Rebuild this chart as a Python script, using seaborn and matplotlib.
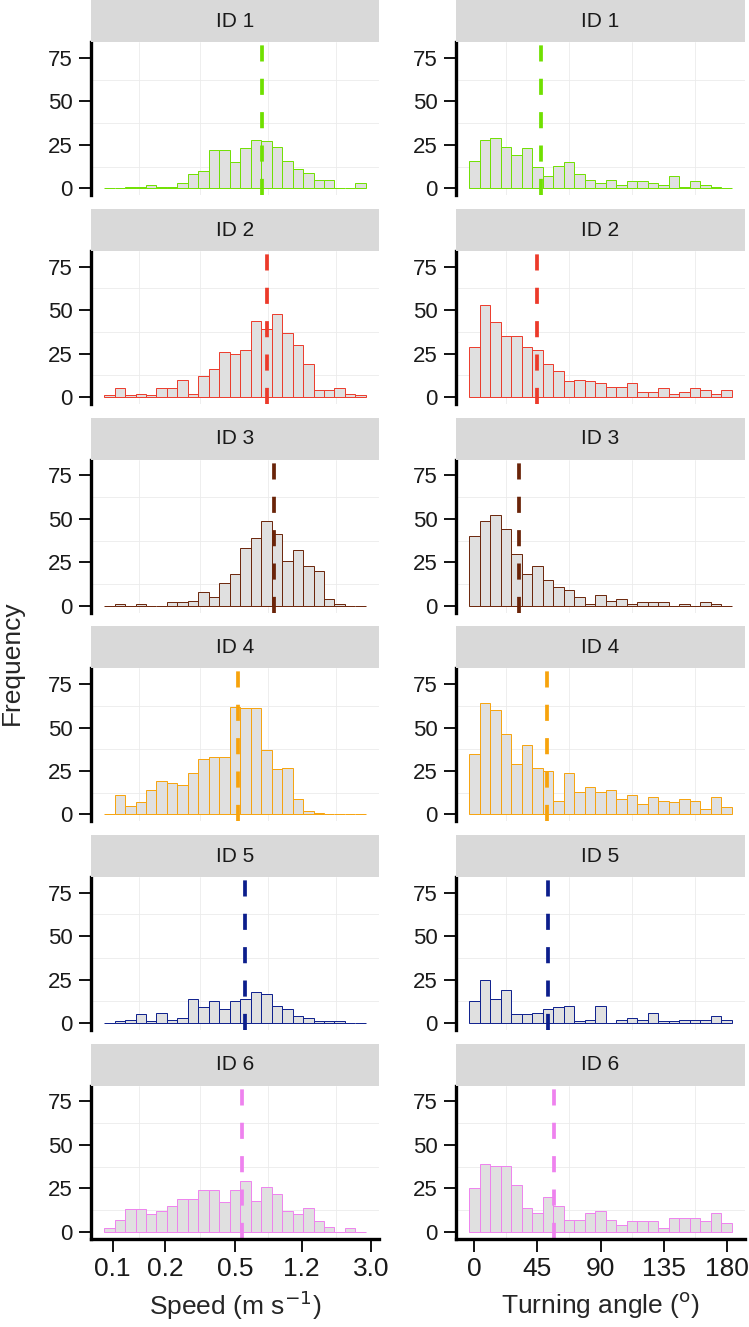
import matplotlib
matplotlib.use('Agg')
import matplotlib.pyplot as plt
import numpy as np
import pandas as pd
import seaborn as sns

# bin counts (25 bins per panel)
ids = ['ID 1', 'ID 2', 'ID 3', 'ID 4', 'ID 5', 'ID 6']
colors = ['#70E000', '#EC3A2A', '#6A2409', '#F7A30C', '#0C1E8C', '#EE82EE']

speed_id1 = [0, 0, 1, 1, 2, 1, 1, 3, 8, 10, 22, 22, 15, 23, 28, 27, 24, 16, 11, 9, 5, 5, 0, 0, 3]
speed_id2 = [1, 5, 1, 2, 1, 5, 5, 10, 2, 12, 16, 26, 25, 27, 44, 39, 48, 37, 30, 19, 4, 4, 5, 2, 1]
speed_id3 = [0, 1, 0, 1, 0, 0, 2, 2, 3, 8, 5, 13, 18, 33, 39, 49, 41, 26, 32, 23, 20, 4, 1, 0, 0]
speed_id4 = [0, 11, 5, 7, 14, 19, 18, 17, 24, 32, 33, 33, 62, 61, 61, 37, 26, 27, 9, 2, 1, 0, 0, 0, 0]
speed_id5 = [0, 1, 2, 5, 1, 6, 2, 3, 14, 9, 13, 8, 13, 14, 18, 17, 10, 8, 4, 3, 1, 1, 1, 0, 0]
speed_id6 = [2, 7, 13, 13, 10, 12, 15, 19, 19, 24, 24, 17, 24, 29, 18, 26, 22, 12, 10, 14, 6, 3, 0, 2, 0]

angle_id1 = [16, 28, 29, 24, 19, 23, 12, 7, 13, 15, 8, 5, 3, 5, 2, 4, 4, 3, 2, 7, 1, 4, 2, 1, 0]
angle_id2 = [29, 53, 43, 35, 35, 29, 27, 19, 15, 9, 10, 9, 8, 6, 6, 8, 3, 3, 5, 2, 3, 5, 4, 2, 4]
angle_id3 = [40, 49, 52, 44, 30, 18, 23, 15, 11, 9, 5, 1, 6, 3, 4, 1, 2, 2, 2, 0, 1, 0, 2, 1, 0]
angle_id4 = [35, 64, 60, 46, 29, 40, 27, 25, 8, 24, 13, 16, 13, 14, 9, 11, 6, 10, 8, 7, 9, 8, 3, 10, 4]
angle_id5 = [13, 25, 14, 19, 5, 5, 6, 8, 9, 10, 1, 2, 10, 0, 2, 3, 2, 6, 1, 1, 2, 2, 2, 4, 2]
angle_id6 = [25, 39, 38, 38, 27, 14, 11, 20, 15, 7, 7, 11, 12, 7, 4, 6, 6, 6, 2, 8, 8, 8, 6, 11, 5]

speed_means = [0.71, 0.76, 0.84, 0.52, 0.57, 0.55]      # m/s
angle_means = [47.4, 44.8, 31.8, 52.1, 52.4, 56.9]      # degrees

speed_ticks = [0.1, 0.2, 0.5, 1.2, 3.0]
speed_labels = ['0.1', '0.2', '0.5', '1.2', '3.0']
angle_ticks = [0, 45, 90, 135, 180]
y_ticks = [0, 25, 50, 75]

# histogram range (log10 speed, degrees)
speed_lo, speed_hi = -1.049, 0.447
angle_lo, angle_hi = -3.75, 183.75

speed_all = [speed_id1, speed_id2, speed_id3, speed_id4, speed_id5, speed_id6]
angle_all = [angle_id1, angle_id2, angle_id3, angle_id4, angle_id5, angle_id6]

sns.set_style('white')
plt.rcParams['font.family'] = ['Liberation Sans', 'DejaVu Sans']

W, H = 749, 1327
fig = plt.figure(figsize=(W / 100, H / 100), dpi=100)

cols = [(91, 379), (456, 745)]
panel_h = 153
strip_h = 42


def draw_panel(ax, counts, lo, hi, col, mean, ticks, labels, bottom_row):
    edges = np.linspace(lo, hi, len(counts) + 1)
    centers = (edges[:-1] + edges[1:]) / 2
    df = pd.DataFrame({'x': np.repeat(centers, counts)})
    sns.histplot(data=df, x='x', bins=list(edges), ax=ax, color='#E0E0E0',
                 edgecolor=col, linewidth=0.7, alpha=1)
    ax.axvline(mean, color=col, lw=2.7, linestyle=(0, (4.3, 4.6)))
    pad = 0.05 * (hi - lo)
    ax.set_xlim(lo - pad, hi + pad)
    ax.set_ylim(-4, 84)
    ax.set_yticks(y_ticks)
    ax.set_yticks([12.5, 37.5, 62.5], minor=True)
    ax.set_xticks(ticks)
    mids = [(a + b) / 2 for a, b in zip(ticks[:-1], ticks[1:])]
    ax.set_xticks(mids, minor=True)
    ax.grid(which='minor', color='#EBEBEB', lw=0.6)
    ax.grid(which='major', visible=False)
    ax.set_axisbelow(True)
    ax.set_xlabel('')
    ax.set_ylabel('')
    for s in ['top', 'right']:
        ax.spines[s].set_visible(False)
    ax.spines['left'].set_linewidth(2.4)
    ax.spines['left'].set_color('black')
    ax.tick_params(axis='y', which='major', length=9, width=1.3, color='black',
                   labelsize=16, pad=4, labelcolor='#1A1A1A', left=True)
    ax.tick_params(which='minor', length=0)
    if bottom_row:
        ax.spines['bottom'].set_linewidth(2.4)
        ax.spines['bottom'].set_color('black')
        ax.set_xticklabels(labels)
        ax.tick_params(axis='x', which='major', length=9, width=1.3, color='black',
                       labelsize=19, pad=4, labelcolor='#1A1A1A', bottom=True)
    else:
        ax.spines['bottom'].set_visible(False)
        ax.tick_params(axis='x', which='major', length=0, labelbottom=False)


for k in range(6):
    bottom = 195.3 + 208.7 * k
    top = bottom - panel_h
    for c, (x0, x1) in enumerate(cols):
        ax = fig.add_axes([x0 / W, 1 - bottom / H, (x1 - x0) / W, panel_h / H])
        if c == 0:
            draw_panel(ax, speed_all[k], speed_lo, speed_hi, colors[k], np.log10(speed_means[k]),
                       list(np.log10(speed_ticks)), speed_labels, k == 5)
        else:
            draw_panel(ax, angle_all[k], angle_lo, angle_hi, colors[k], angle_means[k],
                       angle_ticks, [str(t) for t in angle_ticks], k == 5)
        sx = fig.add_axes([x0 / W, 1 - top / H, (x1 - x0) / W, strip_h / H])
        sx.set_facecolor('#D9D9D9')
        sx.set_xticks([])
        sx.set_yticks([])
        for s in sx.spines.values():
            s.set_visible(False)
        sx.text(0.5, 0.5, ids[k], ha='center', va='center', fontsize=15, color='#1A1A1A')

fig.text(12 / W, 1 - 663 / H, 'Frequency', rotation=90, ha='center', va='center', fontsize=19)
fig.text(235 / W, 1 - 1305 / H, r'Speed (m s$^{-1}$)', ha='center', va='center', fontsize=19)
fig.text(600 / W, 1 - 1305 / H, r'Turning angle ($^{\mathrm{o}}$)', ha='center', va='center', fontsize=19)

fig.savefig('out.png', dpi=100)
